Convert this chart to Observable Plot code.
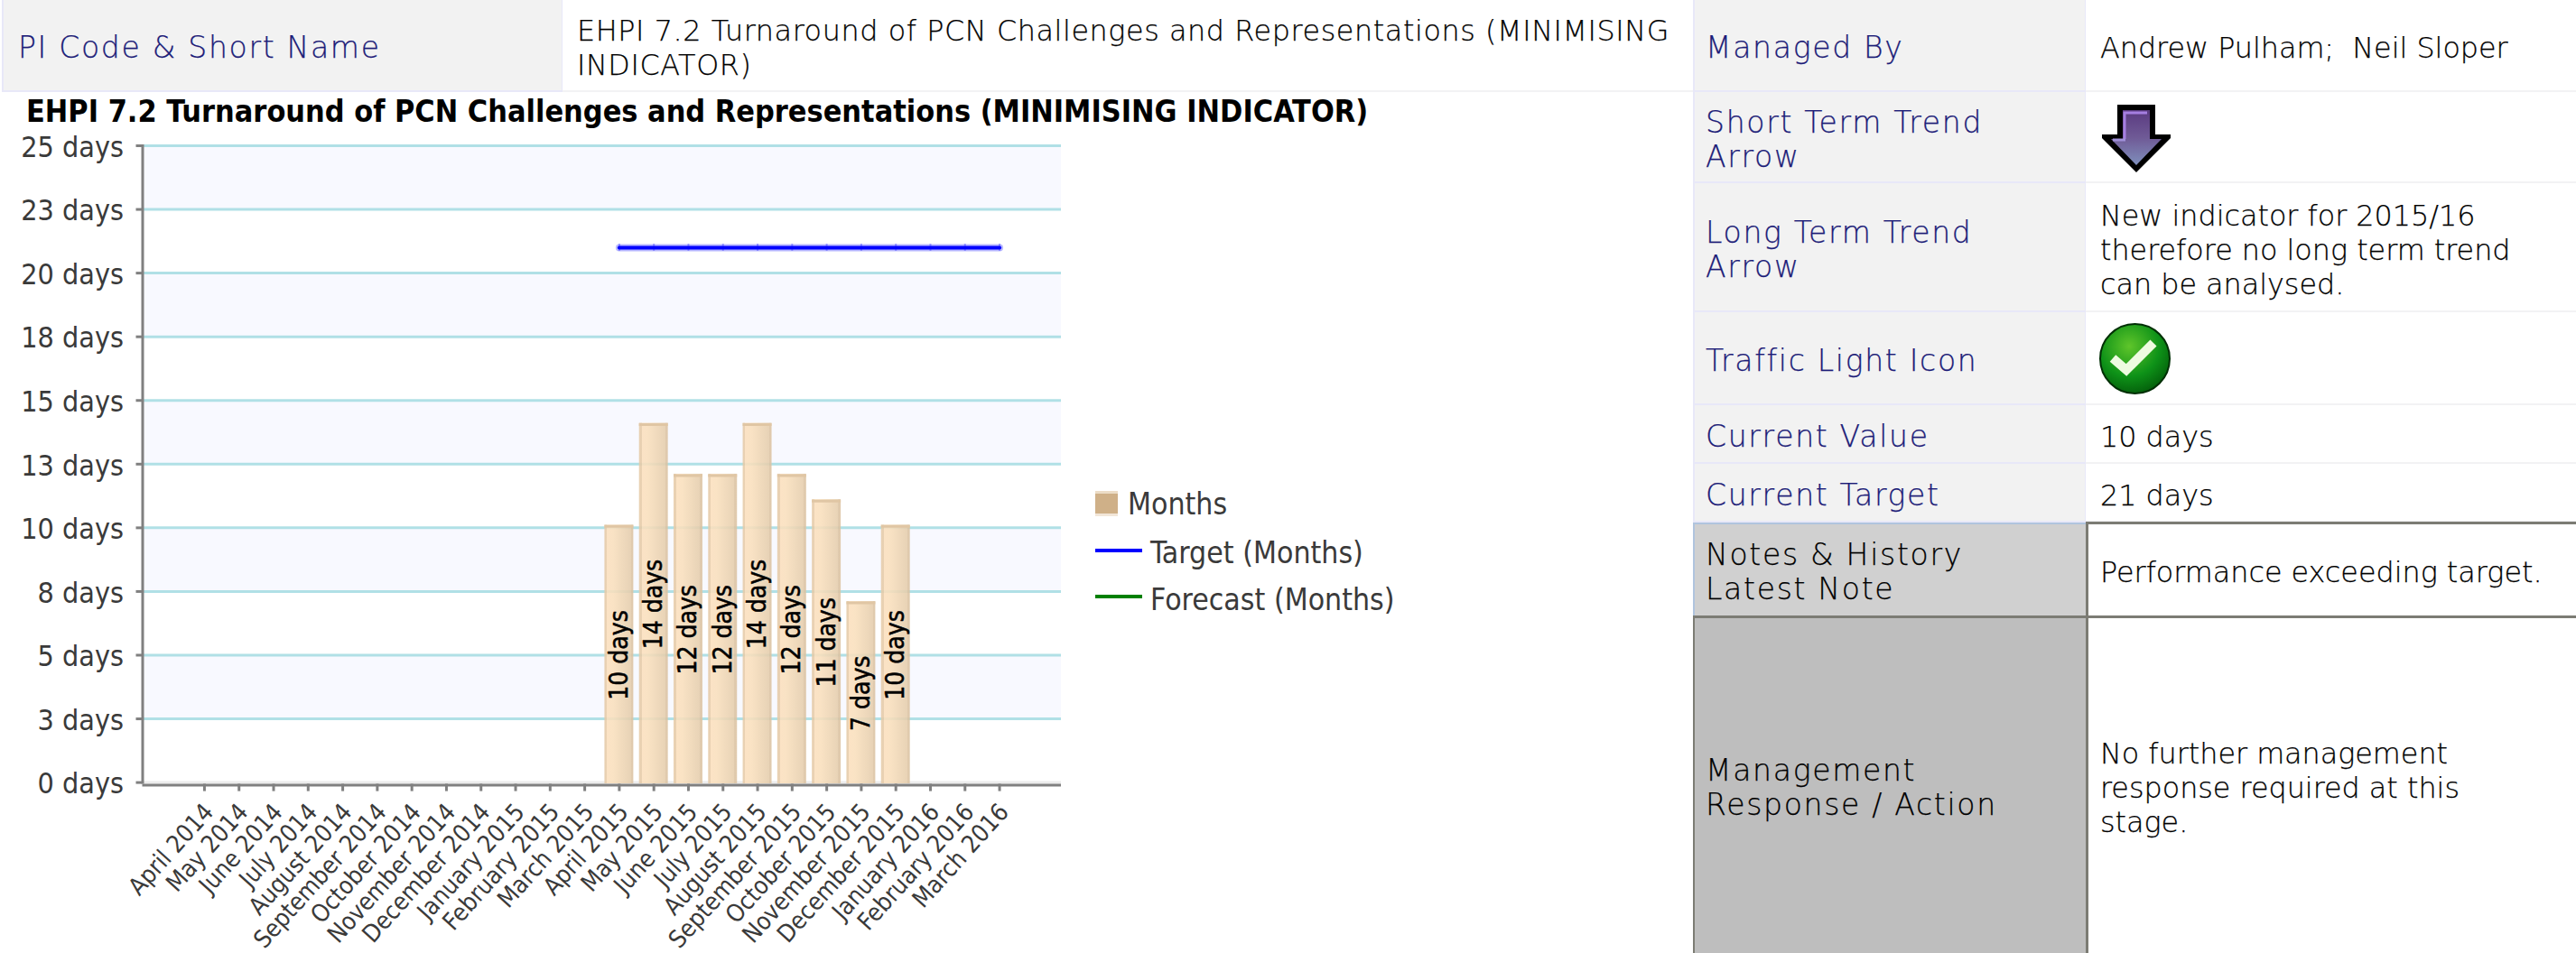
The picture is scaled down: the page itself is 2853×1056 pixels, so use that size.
<!DOCTYPE html>
<html><head><meta charset="utf-8">
<script src="https://cdn.jsdelivr.net/npm/d3@7"></script>
<script src="https://cdn.jsdelivr.net/npm/@observablehq/plot@0.6"></script>
<style>
html,body{margin:0;padding:0;background:#fff;width:2853px;height:1056px;overflow:hidden}
#page{position:relative;width:2853px;height:1056px;overflow:hidden}
.c{position:absolute;box-sizing:border-box;display:flex;align-items:center;font:200 31.8px/38px "DejaVu Sans ExtraLight","DejaVu Sans";color:#000;padding:6px 16px 0;-webkit-text-stroke:.25px currentColor}
.c span{display:block;white-space:nowrap}
.l{background:#f2f2f2;color:#1c1c78;border:1px solid #e8e8f8;border-width:0 1px 2px 2px;font-size:33px;letter-spacing:1.7px}
.r{padding-left:12px}
.v{background:#fff;border-bottom:2px solid #f2f2f4}
.wide{letter-spacing:.6px}
.g1{background:#d0d0d0;border-left:2px solid #b0c4de;border-top:2px solid #b0c4de;color:#000;font-size:33px;letter-spacing:1.7px;padding:4px 16px 0 12px}
.g2{background:#bebebe;border-left:2px solid #7c7c74;border-top:3px solid #7c7c74;color:#000;font-size:33px;letter-spacing:1.7px;padding:4px 16px 0 12px}
.n{border-left:3px solid #7c7c74;border-top:3px solid #7c7c74;padding:4px 16px 0 13px}
#t{position:absolute;left:29px;top:104px;font:bold 33.9px/40px "DejaVu Sans";font-stretch:condensed;color:#000;white-space:nowrap}
#chart{position:absolute;left:0;top:0}
#legend div{position:absolute;font:33.5px/40px "DejaVu Sans";font-stretch:condensed;color:#3a3a3a;white-space:nowrap}
#legend i{position:absolute;display:block}
svg.ic{position:absolute}
</style></head><body><div id="page">
<div id="chart"></div>
<div id="t"></div>
<div id="cells"></div>
<div id="legend"></div>
<svg class="ic" style="left:2328px;top:116px" width="76" height="75" viewBox="0 0 76 75">
<defs><linearGradient id="ag" x1="0" y1="0" x2="0" y2="1"><stop offset="0" stop-color="#5a3a80"/><stop offset=".5" stop-color="#6f5a96"/><stop offset="1" stop-color="#7f8fbc"/></linearGradient></defs>
<path d="M17 0H59V33H76V37L38 75 0 37V33H17Z" fill="#000"/>
<path d="M23 6H53V38H66L38 67 10 38H23Z" fill="url(#ag)"/>
<path d="M25 38V9H50" fill="none" stroke="#a57fe0" stroke-width="3"/>
<path d="M12 39H26" fill="none" stroke="#a090d8" stroke-width="3"/></svg>
<svg class="ic" style="left:2325px;top:358px" width="79" height="79" viewBox="0 0 79 79">
<defs><radialGradient id="cg" cx=".42" cy=".32" r=".72"><stop offset="0" stop-color="#5fc52a"/><stop offset=".6" stop-color="#0e9218"/><stop offset="1" stop-color="#035c0a"/></radialGradient></defs>
<circle cx="39.5" cy="39.5" r="38.5" fill="url(#cg)" stroke="#012f05" stroke-width="2"/>
<path d="M15 39L30 52 60 22" fill="none" stroke="#eefbe0" stroke-width="10"/></svg>
</div>
<script>
const months=["April 2014","May 2014","June 2014","July 2014","August 2014","September 2014","October 2014","November 2014","December 2014","January 2015","February 2015","March 2015","April 2015","May 2015","June 2015","July 2015","August 2015","September 2015","October 2015","November 2015","December 2015","January 2016","February 2016","March 2016"];
const barMonths=["April 2015","May 2015","June 2015","July 2015","August 2015","September 2015","October 2015","November 2015","December 2015"];
const barValues=[10,14,12,12,14,12,11,7,10];
const targetMonths=months.slice(12);
const targetValues=[21,21,21,21,21,21,21,21,21,21,21,21];
const yTicks=[0,2.5,5,7.5,10,12.5,15,17.5,20,22.5,25];
const bandEdges=[[2.5,5],[7.5,10],[12.5,15],[17.5,20],[22.5,25]];
const chartTitle="EHPI 7.2 Turnaround of PCN Challenges and Representations (MINIMISING INDICATOR)";
const legendLabels=["Months","Target (Months)","Forecast (Months)"];
const cells=[
 ["l",2,0,621,102,"PI Code &amp; Short Name"],
 ["v wide",623,0,1252,102,"EHPI 7.2 Turnaround of PCN Challenges and Representations (MINIMISING<br>INDICATOR)"],
 ["l r",1875,0,435,102,"Managed By"],
 ["v",2310,0,543,102,"Andrew Pulham; &nbsp;Neil Sloper"],
 ["l r",1875,102,435,101,"Short Term Trend<br>Arrow"],
 ["v",2310,102,543,101,""],
 ["l r",1875,203,435,143,"Long Term Trend<br>Arrow"],
 ["v",2310,203,543,143,"New indicator for 2015/16<br>therefore no long term trend<br>can be analysed."],
 ["l r",1875,346,435,103,"Traffic Light Icon"],
 ["v",2310,346,543,103,""],
 ["l r",1875,449,435,65,"Current Value"],
 ["v",2310,449,543,65,"10 days"],
 ["l r",1875,514,435,65,"Current Target"],
 ["v",2310,514,543,65,"21 days"],
 ["g1",1875,579,435,104,"Notes &amp; History<br>Latest Note"],
 ["n",2310,578,543,105,"Performance exceeding target."],
 ["g2",1875,682,435,374,"Management<br>Response / Action"],
 ["n",2310,682,543,374,"No further management<br>response required at this<br>stage."]
];
document.getElementById("t").textContent=chartTitle;
document.getElementById("cells").innerHTML=cells.map(([k,x,y,w,h,s])=>`<div class="c ${k}" style="left:${x}px;top:${y}px;width:${w}px;height:${h}px"><span>${s}</span></div>`).join("");
document.getElementById("legend").innerHTML=`
<i style="left:1213px;top:544px;width:25px;height:28px;background:#cfb088;border-top:3px solid #ecdcc6;border-bottom:3px solid #f2e6d8;box-sizing:border-box"></i>
<div style="left:1249px;top:539px">${legendLabels[0]}</div>
<i style="left:1213px;top:608px;width:52px;height:4px;background:#0000ff"></i>
<div style="left:1274px;top:593px">${legendLabels[1]}</div>
<i style="left:1213px;top:659px;width:52px;height:4px;background:#008000"></i>
<div style="left:1274px;top:645px">${legendLabels[2]}</div>`;
const bars=barMonths.map((m,i)=>({m,v:barValues[i]}));
const target=targetMonths.map((m,i)=>({m,v:targetValues[i]}));
const defs=()=>{const d=d3.create("svg:defs");
 const g=d.append("linearGradient").attr("id","barG").attr("x1",0).attr("x2",1).attr("y1",0).attr("y2",0);
 [[0,"#e6cba8"],[.09,"#e6cba8"],[.09,"#fbdfbd"],[.3,"#f9dfbc"],[.91,"#e5cdac"],[.91,"#dcc3a2"],[1,"#dcc3a2"]].forEach(([o,c])=>g.append("stop").attr("offset",o).attr("stop-color",c));
 return d.node();};
const plot=Plot.plot({
 width:1874,height:1056,marginLeft:157.5,marginRight:699,marginTop:161,marginBottom:189.4,
 style:{background:"transparent",fontFamily:'"DejaVu Sans"',fontStretch:"condensed",overflow:"visible"},
 x:{type:"band",domain:months,round:false,paddingInner:.165,paddingOuter:1.37,align:.5,axis:null},
 y:{type:"linear",domain:[0,25],axis:null},
 marks:[
  defs,
  Plot.rect(bandEdges,{y1:d=>d[0],y2:d=>d[1],fill:"#f8f9ff"}),
  Plot.ruleY(yTicks.slice(1),{stroke:"#b0e0e6",strokeWidth:3}),
  Plot.axisX({domain:months,text:null,label:null,tickSize:10,stroke:"#808080",strokeWidth:3}),
  Plot.axisX({domain:months,tickSize:0,tickPadding:28,dx:5,label:null,tickRotate:-48,fontSize:27,fill:"#3a3a3a"}),
  Plot.ruleY([0],{stroke:"#ececec",strokeWidth:3}),
  Plot.barY(bars,{x:"m",y:"v",fill:"url(#barG)",fillOpacity:.88,insetBottom:-1.4,insetTop:-3}),
  Plot.tickY(bars,{x:"m",y:"v",stroke:"#e0c6a4",strokeWidth:3,dy:-1.5}),
  Plot.lineY(target,{x:"m",y:"v",stroke:"#0000ff",strokeOpacity:.28,strokeWidth:8}),
  Plot.ruleX(target,{x:"m",y1:d=>d.v-.14,y2:d=>d.v+.14,stroke:"#0000ff",strokeOpacity:.3,strokeWidth:2}),
  Plot.lineY(target,{x:"m",y:"v",stroke:"#0000ff",strokeWidth:4}),
  Plot.text(bars,{x:"m",y:d=>d.v/2,text:d=>d.v+" days",rotate:-90,fontSize:28,stroke:"#000",strokeWidth:.5,fill:"#000"}),
  Plot.ruleY([0],{stroke:"#808080",strokeWidth:3,dy:3}),
  Plot.frame({anchor:"left",stroke:"#808080",strokeWidth:3}),
  Plot.axisY({ticks:yTicks,text:null,label:null,tickSize:7,stroke:"#808080",strokeWidth:3}),
  Plot.axisY({ticks:yTicks,tickSize:0,tickPadding:21,dy:2,label:null,tickFormat:d=>Math.round(d+1e-9)+" days",fill:"#3a3a3a",fontSize:32})
 ]
});
document.getElementById("chart").appendChild(plot);
</script></body></html>
